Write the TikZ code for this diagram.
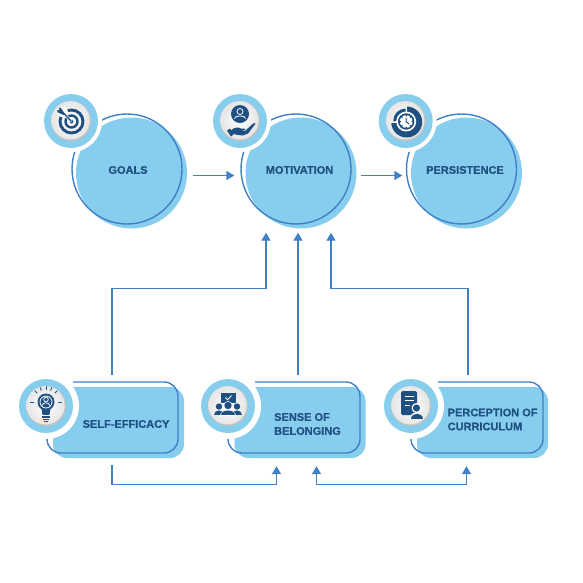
\documentclass[tikz,border=0pt]{standalone}
\usepackage{fontspec}
\setmainfont[BoldFeatures={FakeBold=0.5}]{Liberation Sans}
\usetikzlibrary{arrows.meta,calc}
\definecolor{skyfill}{HTML}{87CEEE}
\definecolor{linkblue}{HTML}{3F80C6}
\definecolor{navy}{HTML}{1F5082}
\tikzset{
  x=1pt,y=-1pt,
  labeltext/.style={text=navy,inner sep=0pt,font=\fontsize{11}{14}\selectfont\bfseries,align=left},
  blobfill/.style={circle,fill=skyfill,inner sep=0pt,minimum size=111pt},
  blobline/.style={circle,draw=linkblue,line width=1.4pt,inner sep=0pt,minimum size=110pt},
  cardfill/.style={rectangle,fill=skyfill,rounded corners=14pt,inner sep=0pt,minimum width=131pt,minimum height=71pt},
  cardline/.style={draw=linkblue,line width=1.4pt,rounded corners=14pt},
  link/.style={draw=linkblue,line width=1.4pt,-{Triangle[length=8pt,width=9pt]}},
  dlink/.style={draw=linkblue,line width=1.4pt,{Triangle[length=8pt,width=9pt]}-{Triangle[length=8pt,width=9pt]}},
  halo/.style={circle,fill=white,inner sep=0pt,minimum size=#1},
  glyph/.style={fill=navy,draw=none},
}
\newcommand{\iconbase}[2]{%
  \node[halo=#2] at (#1) {};
  \fill[skyfill] (#1) circle (27);
  \fill[black!24] (#1) circle (20);
  \shade[inner color=white,outer color=black!10] ($(#1)+(-0.5,-0.7)$) circle (19.2);
}
\begin{document}
\begin{tikzpicture}
\useasboundingbox (0,0) rectangle (583,582);
\fill[white] (0,0) rectangle (583,582);
% --- circles
\node[blobfill] at (131.5,173) {};
\node[blobfill] at (301,173) {};
\node[blobfill] at (466.5,173) {};
\node[blobline] (goals) at (127,169) {};
\node[blobline] (motivation) at (296,169) {};
\node[blobline] (persistence) at (461.5,169) {};
% --- cards
\node[cardfill] (self) at (118.5,422.5) {};
\node[cardfill] (sense) at (300,422.5) {};
\node[cardfill] (percept) at (482.5,422.5) {};
\draw[cardline] (73,382) -- (178,382) -- (178,453) -- (47,453) -- (47,437);
\draw[cardline] (255,382) -- (360,382) -- (360,453) -- (228,453) -- (228,437);
\draw[cardline] (438,382) -- (543,382) -- (543,453) -- (411,453) -- (411,437);
% --- icon bases
\iconbase{71,121}{62pt}
\iconbase{240,121}{62pt}
\iconbase{405.7,121}{62pt}
\iconbase{46,406}{66pt}
\iconbase{228,406}{66pt}
\iconbase{411,406}{66pt}
% --- target
\begin{scope}[shift={(71,121)}]
  \draw[navy,line width=2.9pt] (0.5,0.5) circle (11.5);
  \fill[white] (-12,-13) -- (-5,-14) -- (1,-1) -- (-13,-5) -- cycle;
  \draw[navy,line width=2.4pt] (0.5,0.5) circle (6);
  \fill[navy] (0.5,0.5) circle (2);
  \draw[white,line width=2.6pt] (-10,-10.5) -- (0.5,0.5);
  \draw[navy,line width=1.3pt] (-8,-8.5) -- (0.5,0.5);
  \fill[glyph] (-6.5,-7.5) -- (-10,-13) -- (-12,-13.5) -- (-11.5,-11) -- (-14,-10.5) -- (-13,-8.5) -- (-7.5,-6) -- cycle;
\end{scope}
% --- person in hand
\begin{scope}[shift={(240,121)}]
  \fill[navy] (0,-7) circle (9);
  \draw[white,line width=0.8pt] (0,-9.5) circle (3);
  \draw[white,line width=0.8pt] (-5.5,-2.5) .. controls (-5.5,-6) and (5.5,-6) .. (5.5,-2.5);
  \fill[glyph] (-9,9.5) .. controls (-6,6) and (-2,6) .. (1,7.5) -- (5,7.5) -- (5,9) -- (1,9.5) -- (5,10) -- (12,3.5) -- (15,1.5) -- (15,3.5) -- (8,12.5) -- (3,14.5) -- (-2,14) -- (-6,13) -- cycle;
  \fill[glyph] (-13,9.5) -- (-10,7.5) -- (-6,13) -- (-9,15.5) -- cycle;
\end{scope}
% --- clock
\begin{scope}[shift={(405.7,121)}]
  \fill[navy] (1,-14.5) arc (-90:180:15.5) -- (0,1) -- cycle;
  \fill[navy] (0,-12.5) arc (-90:-180:12.5) -- (0,0) -- cycle;
  \draw[white,line width=1pt] (1,-16) -- (1,-9);
  \draw[white,line width=1pt] (-16,1) -- (-9,1);
  \fill[white] (0.5,0.5) circle (10);
  \fill[navy] (0.5,0.5) circle (8.2);
  \fill[white] (0.5,0.5) circle (6.4);
  \foreach \a in {0,45,...,315} \fill[navy] (0.5,0.5) ++(\a:6) circle (0.9);
  \draw[navy,line width=1pt] (0.5,-3.5) -- (0.5,0.8) -- (3.5,3);
\end{scope}
% --- bulb
\begin{scope}[shift={(46,406)}]
  \fill[glyph] (0,-4) circle (8.5);
  \fill[glyph] (-4.8,1) -- (4.8,1) -- (3.4,9) -- (-3.4,9) -- cycle;
  \fill[white] (-4.5,9.3) rectangle (4.5,10);
  \fill[glyph] (-3.8,10) rectangle (3.8,11.8);
  \fill[glyph] (-2.9,12.5) rectangle (2.9,14);
  \fill[glyph] (-1.7,14.5) rectangle (1.7,15.5);
  \draw[white,line width=0.8pt] (0,-6.5) circle (2.3);
  \draw[white,line width=0.8pt] (0,-4) circle (6);
  \draw[white,line width=0.8pt] (-4,-0.5) .. controls (-3.5,-4) and (3.5,-4) .. (4,-0.5);
  \foreach \a in {-180,-135,-112,-90,-68,-45,0}
    \draw[navy,line width=0.9pt,line cap=round] (0,-4) ++(\a:12.5) -- ++(\a:3);
\end{scope}
% --- group
\begin{scope}[shift={(228,406)}]
  \fill[glyph] (-7.5,-13) rectangle (7.5,-3.5);
  \draw[white,line width=0.9pt] (-2.5,-8.5) -- (-0.5,-6.2) -- (3.5,-10.5);
  \fill[glyph] (-9,0.5) circle (3.2);
  \fill[glyph] (9,0.5) circle (3.2);
  \fill[glyph] (-14,9) .. controls (-14,3) and (-4,3) .. (-4,9) -- cycle;
  \fill[glyph] (14,9) .. controls (14,3) and (4,3) .. (4,9) -- cycle;
  \fill[white] (0,-0.5) circle (4.4);
  \fill[white] (-8,9.5) .. controls (-8,1.5) and (8,1.5) .. (8,9.5) -- cycle;
  \fill[glyph] (0,-0.5) circle (3.7);
  \fill[glyph] (-7,9) .. controls (-7,2.5) and (7,2.5) .. (7,9) -- cycle;
\end{scope}
% --- document
\begin{scope}[shift={(411,406)}]
  \fill[glyph,rounded corners=1.5pt] (-10,-15) rectangle (6,9);
  \draw[white,line width=1pt] (-6.5,-10) -- (2.5,-10);
  \draw[white,line width=1pt] (-6.5,-5.5) -- (2.5,-5.5);
  \draw[white,line width=1pt] (-6.5,-1) -- (-1,-1);
  \fill[white] (5.5,2) circle (5);
  \fill[white] (-1,13) .. controls (-1,4) and (12,4) .. (13,13) -- cycle;
  \fill[glyph] (5.5,2) circle (3.6);
  \fill[glyph] (0.3,12.5) .. controls (0.3,6) and (11.5,6) .. (11.5,12.5) -- cycle;
\end{scope}
% --- labels
\node[labeltext] (goalstext) at (128,170) {GOALS};
\node[labeltext] (motivationtext) at (299.5,170) {MOTIVATION};
\node[labeltext] (persistencetext) at (465,170) {PERSISTENCE};
\node[labeltext,anchor=west] (selftext) at (82.5,424) {SELF-EFFICACY};
\node[labeltext,anchor=west] (sensetext) at (274,424) {SENSE OF\\BELONGING};
\node[labeltext,anchor=west] (percepttext) at (447.5,419.5) {PERCEPTION OF\\CURRICULUM};
% --- connectors
\draw[link] ($(goals.east)+(10,6.5)$) -- ($(motivation.west)+(-6,6.5)$);
\draw[link] ($(motivation.east)+(9,6.5)$) -- ($(persistence.west)+(-3.5,6.5)$);
\coordinate (elbowleft) at ($(motivation.south)+(-30,64)$);
\coordinate (elbowright) at ($(motivation.south)+(35,64)$);
\draw[link] ($(self.north)+(-6.5,-12)$) |- (elbowleft) -- ($(motivation.south)+(-30,8)$);
\draw[link] ($(sense.north)+(-2,-12)$) -- ($(motivation.south)+(2,8)$);
\draw[link] ($(percept.north)+(-14.5,-12)$) |- (elbowright) -- ($(motivation.south)+(35,8)$);
\coordinate (lowleft) at ($(self.south)+(-6.5,26)$);
\coordinate (lowright) at ($(percept.south)+(-16,26)$);
\draw[link] ($(self.south)+(-6.5,7)$) -- (lowleft) -| ($(sense.south)+(-23.5,8)$);
\draw[dlink] ($(sense.south)+(16.5,8)$) |- (lowright) -- ($(percept.south)+(-16,8)$);
\end{tikzpicture}
\end{document}
